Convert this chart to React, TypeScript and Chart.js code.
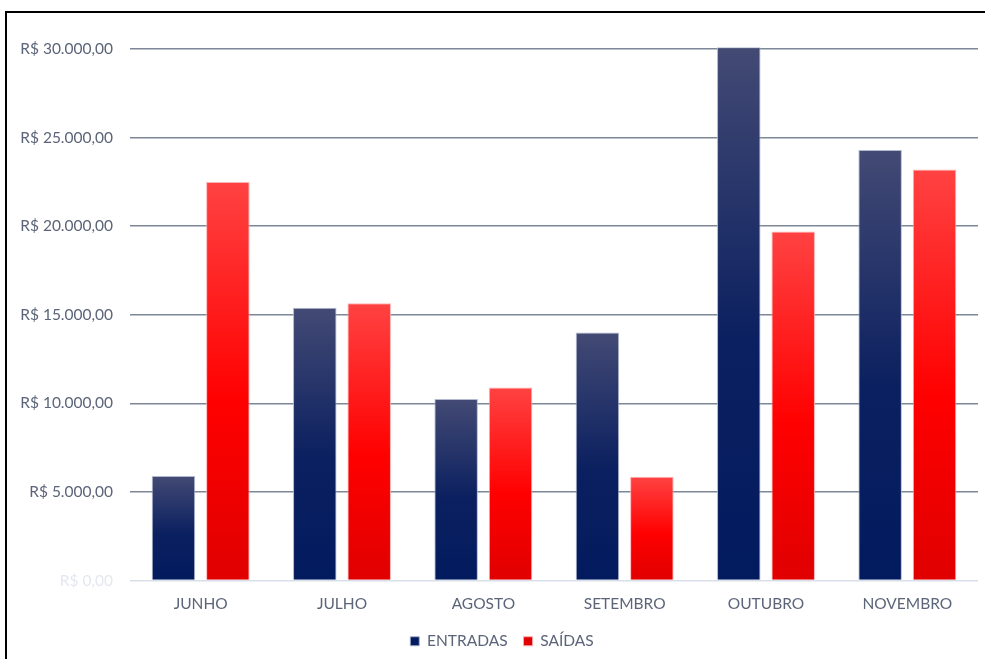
import React, { useEffect, useRef } from "react";
import { Chart, registerables } from "chart.js";

Chart.register(...registerables);

const categories = ["JUNHO", "JULHO", "AGOSTO", "SETEMBRO", "OUTUBRO", "NOVEMBRO"];
const entradas = [5900, 15400, 10250, 14000, 30100, 24300];
const saidas = [22500, 15650, 10900, 5850, 19700, 23200];
const yTicks = [0, 5000, 10000, 15000, 20000, 25000, 30000];

const FONT = "Lato";
const TEXT = "#5b6478";

const formatBRL = (v: number) =>
  "R$ " +
  v.toLocaleString("pt-BR", { minimumFractionDigits: 2, maximumFractionDigits: 2 });

const makeGrad = (stops: string[], solid: string) => (ctx: any) => {
  if (ctx.type !== "data") return solid;
  const chart = ctx.chart;
  const y = chart.scales && chart.scales.y;
  if (!y) return solid;
  const top = y.getPixelForValue(ctx.raw);
  const base = y.getPixelForValue(0);
  if (!isFinite(top) || !isFinite(base) || top === base) return solid;
  const g = chart.ctx.createLinearGradient(0, top, 0, base);
  g.addColorStop(0, stops[0]);
  g.addColorStop(0.55, stops[1]);
  g.addColorStop(1, stops[2]);
  return g;
};

const legendShift = {
  id: "legendShift",
  afterLayout(chart: any) {
    const lg = chart.legend;
    if (lg) {
      lg.left += 13;
      lg.right += 13;
    }
  },
};

export default function App() {
  const ref = useRef<HTMLCanvasElement | null>(null);

  useEffect(() => {
    if (!ref.current) return;
    const chart = new Chart(ref.current, {
      type: "bar",
      data: {
        labels: categories,
        datasets: [
          {
            label: "ENTRADAS",
            data: entradas,
            backgroundColor: makeGrad(["#434a74", "#0b2060", "#021b5e"], "#0b2060"),
            borderColor: "rgba(170,178,205,0.9)",
            borderWidth: 1,
            clip: false as any,
            categoryPercentage: 0.77,
            barPercentage: 0.8,
          },
          {
            label: "SAÍDAS",
            data: saidas,
            backgroundColor: makeGrad(["#ff4242", "#ff0000", "#e00000"], "#ff0000"),
            borderColor: "rgba(255,170,170,0.9)",
            borderWidth: 1,
            clip: false as any,
            categoryPercentage: 0.77,
            barPercentage: 0.8,
          },
        ],
      },
      plugins: [legendShift],
      options: {
        responsive: false,
        animation: false,
        devicePixelRatio: 1,
        layout: { padding: { left: 0, right: 7, top: 49, bottom: 0 } },
        plugins: {
          tooltip: { enabled: false },
          title: { display: false },
          legend: {
            position: "bottom",
            labels: {
              boxWidth: 9,
              boxHeight: 9,
              padding: 16,
              color: TEXT,
              font: { family: FONT, size: 15.5 },
            },
          },
        },
        scales: {
          x: {
            grid: { display: false, drawTicks: false },
            border: { display: false },
            ticks: {
              color: TEXT,
              padding: 14,
              font: { family: FONT, size: 15.5 },
            },
            afterFit: (s: any) => {
              s.height = 37;
            },
          },
          y: {
            min: 0,
            max: 30000,
            afterBuildTicks: (s: any) => {
              s.ticks = yTicks.map((v) => ({ value: v }));
            },
            afterFit: (s: any) => {
              s.width = 130;
            },
            border: { display: false },
            grid: {
              drawTicks: false,
              color: (c: any) => (c.tick && c.tick.value === 0 ? "#d9dfe8" : "#7d8797"),
              lineWidth: 1.5,
            },
            ticks: {
              padding: 17,
              color: (c: any) => (c.tick && c.tick.value === 0 ? "#e4e8ee" : TEXT),
              font: { family: FONT, size: 15.5 },
              callback: (v: any) => formatBRL(Number(v)),
            },
          },
        },
      },
    });
    return () => chart.destroy();
  }, []);

  return (
    <div
      style={{
        position: "fixed",
        left: 0,
        top: 0,
        width: 985,
        height: 659,
        overflow: "hidden",
        background: "#fff",
      }}
    >
      <div
        style={{
          position: "absolute",
          left: 5,
          top: 11,
          width: 1200,
          height: 900,
          borderTop: "2px solid #000",
          borderLeft: "2px solid #000",
        }}
      />
      <canvas
        ref={ref}
        width={985}
        height={659}
        style={{ position: "absolute", left: 0, top: 0 }}
      />
    </div>
  );
}
